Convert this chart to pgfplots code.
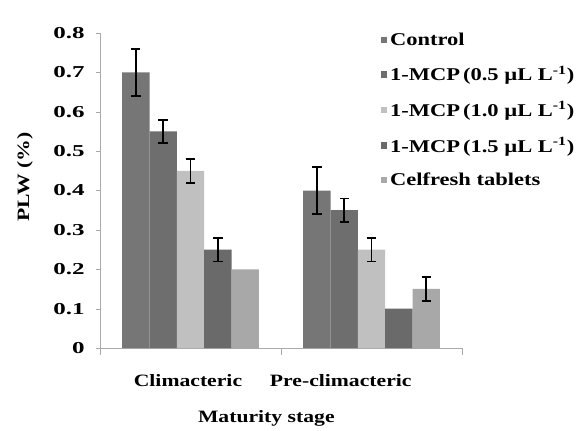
\documentclass[border=0pt]{standalone}
\usepackage{fontspec}
\setmainfont{Liberation Serif}[FakeStretch=1.25]
\newfontfamily\tickfont{Liberation Serif}[FakeStretch=1.5]
\usepackage{pgfplots}
\pgfplotsset{compat=1.18}
\definecolor{cA}{HTML}{767676}
\definecolor{cB}{HTML}{6E6E6E}
\definecolor{cC}{HTML}{C0C0C0}
\definecolor{cD}{HTML}{6A6A6A}
\definecolor{cE}{HTML}{A8A8A8}
\definecolor{axc}{HTML}{AAAAAA}
\begin{document}
\begin{tikzpicture}
\begin{axis}[name=ax, scale only axis, width=271.5pt, height=236.25pt,
  xmin=-0.5, xmax=1.5, ymin=0, ymax=0.8,
  ybar, bar width=20.5pt,
  axis x line*=bottom, axis y line*=left,
  axis line style={draw=axc},
  ytick={0,0.1,0.2,0.3,0.4,0.5,0.6,0.7,0.8},
  yticklabels={0,0.1,0.2,0.3,0.4,0.5,0.6,0.7,0.8},
  ytick style={draw=axc}, tick align=outside, major tick length=3pt,
  xtick={-0.014,0.83}, xticklabels={Climacteric,Pre-climacteric},
  xtick style={draw=none},
  extra x ticks={-0.5,0.5,1.5}, extra x tick labels={},
  extra x tick style={xtick style={draw=axc}, major tick length=5pt},
  /pgf/number format/assume math mode=true,
  yticklabel style={font=\fontsize{12.5}{14}\selectfont\tickfont\bfseries, xshift=-5pt},
  xticklabel style={font=\fontsize{13}{15}\selectfont\bfseries, yshift=-13pt},
  ylabel={PLW (\%)},
  ylabel style={at={(axis description cs:-0.207,0.543)}, anchor=center, font=\fontsize{13}{15}\selectfont\bfseries},
  xlabel={Maturity stage},
  xlabel style={at={(axis description cs:0.5,0)}, anchor=center, yshift=-52.5pt, xshift=-11pt, font=\fontsize{13}{15}\selectfont\bfseries},
  legend style={at={(axis description cs:0.775,1.01)}, anchor=north west, draw=none, fill=none,
    font=\fontsize{13.5}{15}\selectfont\bfseries, row sep=9.8pt, inner sep=0pt},
  legend cell align=left,
  legend image code/.code={\fill[#1] (0pt,-2.5pt) rectangle (5pt,2.5pt);},
  error bars/error bar style={black, line width=1.3pt},
  error bars/error mark options={black, line width=1.3pt, mark size=3.5pt, rotate=90},
]
\addplot[fill=cA, draw=none, bar shift=-41pt] coordinates {(0,0.70) (1,0.40)};
\addplot[fill=cB, draw=none, bar shift=-20.5pt] coordinates {(0,0.55) (1,0.35)};
\addplot[fill=cC, draw=none, bar shift=0pt] coordinates {(0,0.45) (1,0.25)};
\addplot[fill=cD, draw=none, bar shift=20.5pt] coordinates {(0,0.25) (1,0.10)};
\addplot[fill=cE, draw=none, bar shift=41pt] coordinates {(0,0.20) (1,0.15)};
\legend{Control, 1-MCP\,(0.5 µL L\textsuperscript{-1}), 1-MCP\,(1.0 µL L\textsuperscript{-1}), 1-MCP\,(1.5 µL L\textsuperscript{-1}), Celfresh tablets}
% error bars only
\addplot[draw=none, fill=none, forget plot, bar shift=-41pt, error bars/.cd, y dir=both, y explicit] coordinates {(0,0.70) +- (0,0.06) (1,0.40) +- (0,0.06)};
\addplot[draw=none, fill=none, forget plot, bar shift=-20.5pt, error bars/.cd, y dir=both, y explicit] coordinates {(0,0.55) +- (0,0.03) (1,0.35) +- (0,0.03)};
\addplot[draw=none, fill=none, forget plot, bar shift=0pt, error bars/.cd, y dir=both, y explicit] coordinates {(0,0.45) +- (0,0.03) (1,0.25) +- (0,0.03)};
\addplot[draw=none, fill=none, forget plot, bar shift=20.5pt, error bars/.cd, y dir=both, y explicit] coordinates {(0,0.25) +- (0,0.03)};
\addplot[draw=none, fill=none, forget plot, bar shift=41pt, error bars/.cd, y dir=both, y explicit] coordinates {(1,0.15) +- (0,0.03)};
\end{axis}
\pgfresetboundingbox
\path ([shift={(-75pt,-61.5pt)}]ax.south west) rectangle ([shift={(366pt,261pt)}]ax.south west);
\end{tikzpicture}
\end{document}
